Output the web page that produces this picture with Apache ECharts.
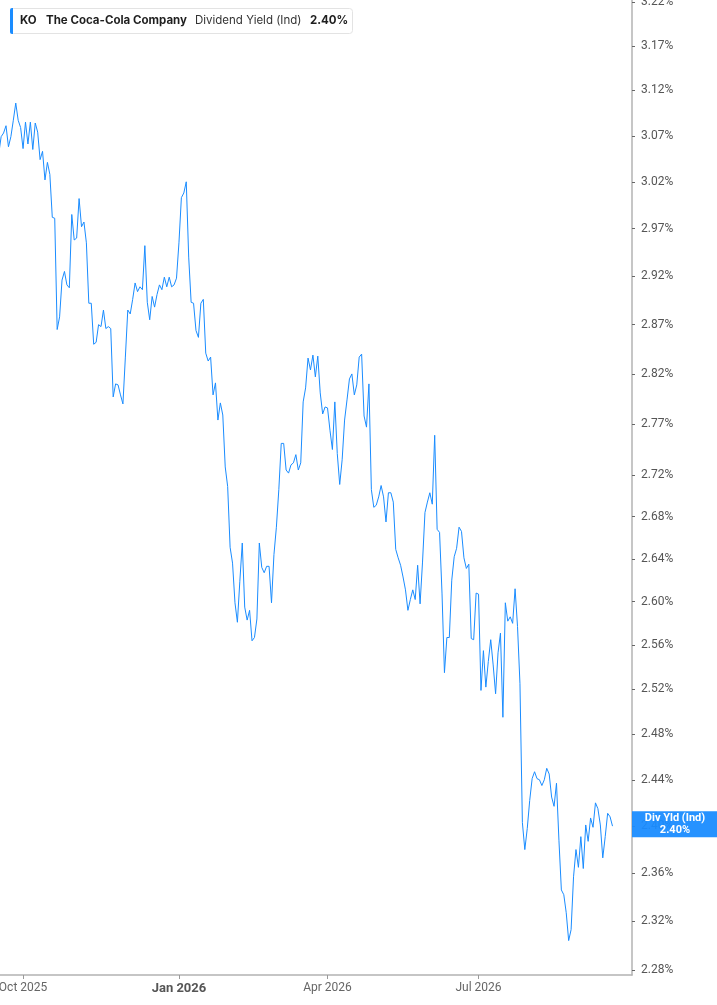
<!DOCTYPE html>
<html>
<head>
<meta charset="utf-8">
<script src="https://cdn.jsdelivr.net/npm/echarts@6.0.0/dist/echarts.min.js"></script>
<style>
html,body{margin:0;padding:0;background:#fff;}
#chart{width:717px;height:1005px;}
</style>
</head>
<body>
<div id="chart"></div>
<script>
// ---- data ----
const ticker = 'KO';
const companyName = 'The Coca-Cola Company';
const metricName = 'Dividend Yield (Ind)';
const badgeTitle = 'Div Yld (Ind)';
const startDate = '2025-09-17';
const endDate = '2026-09-30';
const marketHolidays = ['2025-11-27','2025-12-25','2026-01-01','2026-01-19','2026-02-16','2026-04-03','2026-05-25','2026-06-19','2026-07-03','2026-09-07'];
const yieldValues = [
 3.05, 3.069, 3.073, 3.081, 3.058, 3.069, 3.087, 3.106, 3.087, 3.079,
 3.056, 3.085, 3.061, 3.085, 3.055, 3.084, 3.074, 3.044, 3.053, 3.022,
 3.041, 3.028, 2.982, 2.981, 2.865, 2.878, 2.916, 2.925, 2.911, 2.908,
 2.985, 2.958, 2.960, 3.002, 2.972, 2.977, 2.955, 2.892, 2.892, 2.850,
 2.852, 2.870, 2.868, 2.885, 2.866, 2.868, 2.866, 2.797, 2.810, 2.809,
 2.799, 2.790, 2.837, 2.885, 2.881, 2.896, 2.913, 2.904, 2.909, 2.906,
 2.952, 2.893, 2.875, 2.899, 2.888, 2.901, 2.911, 2.906, 2.919, 2.909,
 2.919, 2.909, 2.911, 2.918, 2.955, 3.003, 3.008, 3.020, 2.940, 2.893,
 2.892, 2.864, 2.857, 2.892, 2.896, 2.841, 2.833, 2.837, 2.799, 2.811,
 2.774, 2.791, 2.779, 2.728, 2.709, 2.651, 2.636, 2.599, 2.581, 2.619,
 2.655, 2.595, 2.583, 2.592, 2.564, 2.567, 2.584, 2.655, 2.632, 2.627,
 2.633, 2.633, 2.599, 2.644, 2.670, 2.706, 2.751, 2.751, 2.725, 2.722,
 2.730, 2.732, 2.740, 2.725, 2.732, 2.792, 2.806, 2.836, 2.824, 2.839,
 2.817, 2.838, 2.801, 2.780, 2.787, 2.786, 2.764, 2.745, 2.792, 2.741,
 2.711, 2.735, 2.774, 2.794, 2.815, 2.820, 2.799, 2.809, 2.837, 2.840,
 2.778, 2.767, 2.810, 2.706, 2.689, 2.691, 2.699, 2.710, 2.699, 2.675,
 2.703, 2.703, 2.694, 2.649, 2.641, 2.634, 2.623, 2.611, 2.592, 2.602,
 2.611, 2.602, 2.634, 2.598, 2.637, 2.684, 2.694, 2.703, 2.692, 2.759,
 2.668, 2.665, 2.608, 2.535, 2.567, 2.567, 2.620, 2.642, 2.650, 2.670,
 2.666, 2.641, 2.631, 2.635, 2.566, 2.565, 2.608, 2.607, 2.519, 2.555,
 2.522, 2.545, 2.565, 2.542, 2.516, 2.553, 2.571, 2.495, 2.599, 2.582,
 2.586, 2.580, 2.612, 2.577, 2.525, 2.403, 2.380, 2.398, 2.422, 2.441,
 2.447, 2.441, 2.440, 2.435, 2.440, 2.450, 2.445, 2.425, 2.417, 2.437,
 2.388, 2.346, 2.342, 2.327, 2.304, 2.313, 2.357, 2.380, 2.365, 2.391,
 2.364, 2.401, 2.387, 2.407, 2.399, 2.420, 2.415, 2.401, 2.373, 2.391,
 2.411, 2.408, 2.400
];
const yTickValues = [2.28, 2.32, 2.36, 2.40, 2.44, 2.48, 2.52, 2.56, 2.60, 2.64, 2.68, 2.72, 2.77, 2.82, 2.87, 2.92, 2.97, 3.02, 3.07, 3.12, 3.17, 3.22];
const labelMonths = [0, 3, 6, 9];
const monthNames = ['Jan','Feb','Mar','Apr','May','Jun','Jul','Aug','Sep','Oct','Nov','Dec'];

// ---- trading-day categories ----
const categories = [];
(function () {
  const d = new Date(startDate + 'T00:00:00Z');
  const end = new Date(endDate + 'T00:00:00Z');
  while (d <= end) {
    const s = d.toISOString().slice(0, 10);
    const wd = d.getUTCDay();
    if (wd !== 0 && wd !== 6 && marketHolidays.indexOf(s) < 0) categories.push(s);
    d.setUTCDate(d.getUTCDate() + 1);
  }
})();
const labelIdx = {};
for (let i = 1; i < categories.length; i++) {
  const m = +categories[i].slice(5, 7) - 1;
  const pm = +categories[i - 1].slice(5, 7) - 1;
  if (m !== pm && labelMonths.indexOf(m) >= 0) labelIdx[i] = true;
}
const showAt = (idx) => !!labelIdx[idx];

const lastValue = yieldValues[yieldValues.length - 1];
const lineColor = '#1a8cff';

const chart = echarts.init(document.getElementById('chart'));
chart.setOption({
  animation: false,
  grid: { left: -1.3, right: 85, top: 0, bottom: 30, containLabel: false, outerBoundsMode: 'none' },
  xAxis: {
    type: 'category',
    data: categories,
    boundaryGap: false,
    axisLine: { show: true, lineStyle: { color: '#b3b3b3', width: 1.5 } },
    axisTick: { show: true, interval: showAt, length: 4, lineStyle: { color: '#999', width: 1 } },
    axisLabel: {
      interval: showAt,
      margin: 7,
      color: '#666',
      fontFamily: 'Roboto',
      fontSize: 12,
      formatter: function (v) {
        const m = +v.slice(5, 7) - 1;
        const txt = monthNames[m] + ' ' + v.slice(0, 4);
        return m === 0 ? '{b|' + txt + '}' : txt;
      },
      rich: { b: { fontWeight: 'bold', fontSize: 13, color: '#555', fontFamily: 'Roboto' } }
    },
    splitLine: { show: false }
  },
  yAxis: {
    type: 'log',
    logBase: 10,
    position: 'right',
    min: 2.2759,
    max: 3.2223,
    axisLine: { show: true, lineStyle: { color: '#b3b3b3', width: 1.5 } },
    axisTick: { show: true, customValues: yTickValues, length: 3, lineStyle: { color: '#666', width: 1 } },
    axisLabel: {
      customValues: yTickValues,
      margin: 9,
      color: '#555',
      fontFamily: 'Roboto',
      fontSize: 12,
      padding: [3, 0, 0, 0],
      formatter: function (v) { return (+v).toFixed(2) + '%'; }
    },
    splitLine: { show: false },
    minorTick: { show: false }
  },
  series: [{
    type: 'line',
    data: yieldValues,
    showSymbol: false,
    symbol: 'none',
    lineStyle: { color: lineColor, width: 1 },
    z: 3
  }]
});

const py = chart.convertToPixel({ yAxisIndex: 0 }, lastValue);
const legendFont = 'Inter, "Noto Sans", sans-serif';
chart.setOption({
  graphic: [
    { type: 'rect', shape: { x: 10.5, y: 8.5, width: 342, height: 25, r: 3 }, style: { fill: '#fff', stroke: '#e3e3e3', lineWidth: 1 }, z: 10 },
    { type: 'rect', shape: { x: 10, y: 8, width: 3, height: 26, r: [2, 0, 0, 2] }, style: { fill: lineColor }, z: 11 },
    { type: 'text', x: 20, y: 21, style: { text: ticker, font: 'bold 11.5px ' + legendFont, fill: '#1f1f1f', verticalAlign: 'middle' }, z: 11 },
    { type: 'text', x: 46, y: 21, style: { text: companyName, font: 'bold 11.5px ' + legendFont, fill: '#1f1f1f', verticalAlign: 'middle' }, z: 11 },
    { type: 'text', x: 195, y: 21, style: { text: metricName, font: '11.5px ' + legendFont, fill: '#333', verticalAlign: 'middle' }, z: 11 },
    { type: 'text', x: 310, y: 21, style: { text: lastValue.toFixed(2) + '%', font: 'bold 11.5px ' + legendFont, fill: '#1f1f1f', verticalAlign: 'middle' }, z: 11 },
    { type: 'rect', shape: { x: 632, y: py - 15, width: 85, height: 26 }, style: { fill: lineColor, opacity: 0.95 }, z: 10 },
    { type: 'text', x: 675, y: py - 8, style: { text: badgeTitle, font: 'bold 11px Roboto', fill: '#fff', align: 'center', verticalAlign: 'middle' }, z: 11 },
    { type: 'text', x: 675, y: py + 4, style: { text: lastValue.toFixed(2) + '%', font: 'bold 11px Roboto', fill: '#fff', align: 'center', verticalAlign: 'middle' }, z: 11 }
  ]
});
</script>
</body>
</html>
